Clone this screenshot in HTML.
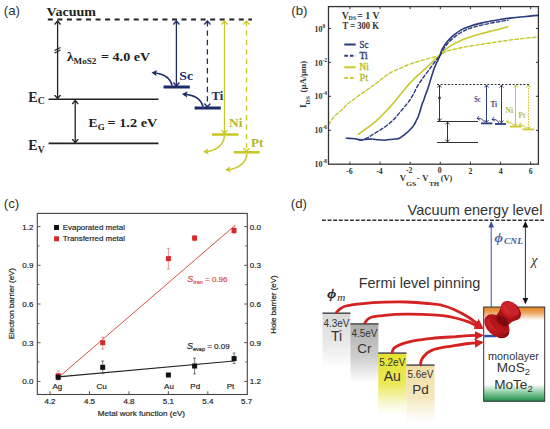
<!DOCTYPE html>
<html><head><meta charset="utf-8">
<style>
html,body{margin:0;padding:0;background:#fff;}
body{width:550px;height:429px;overflow:hidden;}
svg{display:block;}
.sans{font-family:"Liberation Sans",sans-serif;}
.serif{font-family:"Liberation Serif",serif;}
</style></head><body>
<svg width="550" height="429" viewBox="0 0 550 429">
<defs>
  <marker id="ahk" markerWidth="8" markerHeight="8" refX="4" refY="4" orient="auto-start-reverse" markerUnits="userSpaceOnUse">
    <path d="M0.5,1 L4,4 L0.5,7" fill="none" stroke="#222" stroke-width="1.3"/>
  </marker>
  <marker id="ahb" markerWidth="8" markerHeight="8" refX="4" refY="4" orient="auto-start-reverse" markerUnits="userSpaceOnUse">
    <path d="M0.5,1 L4,4 L0.5,7" fill="none" stroke="#1c2a66" stroke-width="1.3"/>
  </marker>
  <marker id="ahy" markerWidth="8" markerHeight="8" refX="4" refY="4" orient="auto-start-reverse" markerUnits="userSpaceOnUse">
    <path d="M0.5,1 L4,4 L0.5,7" fill="none" stroke="#c8c82c" stroke-width="1.3"/>
  </marker>
  <marker id="ahs" markerWidth="6" markerHeight="6" refX="3" refY="3" orient="auto-start-reverse" markerUnits="userSpaceOnUse">
    <path d="M0.5,1 L3,3 L0.5,5" fill="none" stroke="#333" stroke-width="0.9"/>
  </marker>
  <marker id="ahsb" markerWidth="6" markerHeight="6" refX="3" refY="3" orient="auto-start-reverse" markerUnits="userSpaceOnUse">
    <path d="M0.5,1 L3,3 L0.5,5" fill="none" stroke="#2a3a7c" stroke-width="0.9"/>
  </marker>
  <marker id="ahsy" markerWidth="6" markerHeight="6" refX="3" refY="3" orient="auto-start-reverse" markerUnits="userSpaceOnUse">
    <path d="M0.5,1 L3,3 L0.5,5" fill="none" stroke="#c8c82c" stroke-width="0.9"/>
  </marker>
  <linearGradient id="gTi" x1="0" y1="0" x2="0" y2="1"><stop offset="0" stop-color="#d8d8d8"/><stop offset="0.6" stop-color="#ebebeb"/><stop offset="1" stop-color="#ffffff"/></linearGradient>
  <linearGradient id="gCr" x1="0" y1="0" x2="0" y2="1"><stop offset="0" stop-color="#acacac"/><stop offset="0.55" stop-color="#cdcdcd"/><stop offset="1" stop-color="#ffffff"/></linearGradient>
  <linearGradient id="gAu" x1="0" y1="0" x2="0" y2="1"><stop offset="0" stop-color="#e4e22e"/><stop offset="0.5" stop-color="#ebe95a"/><stop offset="0.82" stop-color="#f8f8d6"/><stop offset="1" stop-color="#ffffff"/></linearGradient>
  <linearGradient id="gPd" x1="0" y1="0" x2="0" y2="1"><stop offset="0" stop-color="#f0dfa6"/><stop offset="0.55" stop-color="#f4e6bc"/><stop offset="0.85" stop-color="#fcf8ee"/><stop offset="1" stop-color="#ffffff"/></linearGradient>
  <linearGradient id="gBox" x1="0" y1="0" x2="0" y2="1">
    <stop offset="0" stop-color="#e5821f"/><stop offset="0.06" stop-color="#eda560"/><stop offset="0.14" stop-color="#ffffff"/>
    <stop offset="0.82" stop-color="#ffffff"/><stop offset="0.9" stop-color="#92d0a6"/><stop offset="1" stop-color="#1f8c48"/>
  </linearGradient>
  <radialGradient id="gPin" cx="0.4" cy="0.35" r="0.7"><stop offset="0" stop-color="#d42a2e"/><stop offset="0.6" stop-color="#b01218"/><stop offset="1" stop-color="#7a080e"/></radialGradient>
  <radialGradient id="gCap" cx="0.45" cy="0.35" r="0.7"><stop offset="0" stop-color="#dc3a3e"/><stop offset="0.6" stop-color="#c0161c"/><stop offset="1" stop-color="#860a10"/></radialGradient>
  <marker id="ahR" markerWidth="12" markerHeight="12" refX="6" refY="6" orient="auto" markerUnits="userSpaceOnUse">
    <path d="M0,1.5 L9,6 L0,10.5 Z" fill="#d42222"/>
  </marker>
  <marker id="ahbf" markerWidth="8" markerHeight="8" refX="3" refY="4" orient="auto" markerUnits="userSpaceOnUse">
    <path d="M0,0.8 L5.5,4 L0,7.2 L1.2,4 Z" fill="#1c2a66"/>
  </marker>
  <marker id="ahyf" markerWidth="8" markerHeight="8" refX="3" refY="4" orient="auto" markerUnits="userSpaceOnUse">
    <path d="M0,0.8 L5.5,4 L0,7.2 L1.2,4 Z" fill="#c8c82c"/>
  </marker>
</defs>

<!-- ================= PANEL (a) ================= -->
<g id="pa">
  <text x="3.8" y="14.9" class="sans" font-size="13.3" fill="#333">(a)</text>
  <text x="46.6" y="15.8" class="serif" font-weight="bold" font-size="13.5" fill="#222" textLength="49.4" lengthAdjust="spacingAndGlyphs">Vacuum</text>
  <line x1="47.8" y1="19.5" x2="252" y2="19.5" stroke="#222" stroke-width="1.8" stroke-dasharray="5 4.55"/>
  <!-- lambda arrow -->
  <line x1="57.6" y1="21" x2="57.6" y2="98.5" stroke="#222" stroke-width="1.3" marker-start="url(#ahk)" marker-end="url(#ahk)"/>
  <path d="M54.5,50.5 L60.5,47.5 M54.5,53 L60.5,50" stroke="#222" stroke-width="1.2" fill="none"/>
  <text x="66.9" y="60.5" class="serif" font-weight="bold" font-size="13.5" fill="#222">λ</text>
  <text x="73.6" y="63.6" class="serif" font-weight="bold" font-size="8.5" fill="#222" textLength="22.8" lengthAdjust="spacingAndGlyphs">MoS2</text>
  <text x="101" y="60.5" class="serif" font-weight="bold" font-size="13" fill="#222" textLength="49.2" lengthAdjust="spacingAndGlyphs">= 4.0 eV</text>
  <!-- Ec / Ev -->
  <line x1="48.6" y1="99.3" x2="158.5" y2="99.3" stroke="#222" stroke-width="1.6"/>
  <line x1="48.6" y1="143.4" x2="158.5" y2="143.4" stroke="#222" stroke-width="1.6"/>
  <text x="28.3" y="101.8" class="serif" font-weight="bold" font-size="14" fill="#222">E<tspan font-size="9.5" dy="2.5">C</tspan></text>
  <text x="28.3" y="150.3" class="serif" font-weight="bold" font-size="14" fill="#222">E<tspan font-size="9.5" dy="2.2">V</tspan></text>
  <line x1="75.2" y1="100.5" x2="75.2" y2="142.5" stroke="#222" stroke-width="1.3" marker-start="url(#ahk)" marker-end="url(#ahk)"/>
  <text x="88.4" y="127" class="serif" font-weight="bold" font-size="13.5" fill="#222">E</text>
  <text x="97.8" y="130.3" class="serif" font-weight="bold" font-size="9" fill="#222">G</text>
  <text x="107.5" y="127" class="serif" font-weight="bold" font-size="13.5" fill="#222" textLength="49.8" lengthAdjust="spacingAndGlyphs">= 1.2 eV</text>

  <!-- Sc -->
  <g stroke="#1c2a66" fill="none">
    <line x1="176.4" y1="21" x2="176.4" y2="86" stroke-width="1.3" marker-start="url(#ahb)" marker-end="url(#ahb)"/>
    <line x1="163.5" y1="87" x2="189.8" y2="87" stroke-width="3"/>
    <path d="M172,85.5 C170.5,78.5 164,74 154,72.8" stroke-width="1.6" marker-end="url(#ahbf)"/>
    <line x1="207.4" y1="21" x2="207.4" y2="107" stroke-width="1.3" stroke-dasharray="5.4 4" marker-start="url(#ahb)" marker-end="url(#ahb)"/>
    <line x1="194.6" y1="108" x2="220.8" y2="108" stroke-width="3"/>
    <path d="M203,106.5 C201,99.5 194,95 184.5,94.3" stroke-width="1.6" marker-end="url(#ahbf)"/>
  </g>
  <text x="179.3" y="79.8" class="serif" font-weight="bold" font-size="13" fill="#1c2a66" textLength="13.7" lengthAdjust="spacingAndGlyphs">Sc</text>
  <text x="211.5" y="99.6" class="serif" font-weight="bold" font-size="13.5" fill="#1c2a66" textLength="11.8" lengthAdjust="spacingAndGlyphs">Ti</text>
  <g stroke="#c8c82c" fill="none">
    <line x1="224.5" y1="21" x2="224.5" y2="133.5" stroke-width="1.3" marker-start="url(#ahy)" marker-end="url(#ahy)"/>
    <line x1="212" y1="134.5" x2="238.5" y2="134.5" stroke-width="2.6"/>
    <path d="M224.4,136 C224,145 216,150.5 205.5,151.8" stroke-width="1.6" marker-end="url(#ahyf)"/>
    <line x1="246.5" y1="21" x2="246.5" y2="151.5" stroke-width="1.3" stroke-dasharray="5.4 4" marker-start="url(#ahy)" marker-end="url(#ahy)"/>
    <line x1="233.7" y1="152.3" x2="259.6" y2="152.3" stroke-width="2.6"/>
    <path d="M246.8,154 C246.5,163 238,168.5 227.5,169.8" stroke-width="1.6" marker-end="url(#ahyf)"/>
  </g>
  <text x="229" y="127.3" class="serif" font-weight="bold" font-size="12.5" fill="#b2b62a" textLength="13.4" lengthAdjust="spacingAndGlyphs">Ni</text>
  <text x="251" y="147.3" class="serif" font-weight="bold" font-size="12.5" fill="#b2b62a" textLength="12.3" lengthAdjust="spacingAndGlyphs">Pt</text>
</g>


<!-- ================= PANEL (b) ================= -->
<g id="pb">
  <text x="291.3" y="15" class="sans" font-size="13.3" fill="#333">(b)</text>
  <!-- curves -->
  <g fill="none" stroke-linejoin="round" stroke-linecap="round">
    <path stroke="#c8c82c" stroke-width="1.4" stroke-dasharray="3.5 2.2" d="M328.5,124.4 C329.5,123.1 332.4,118.6 334.5,116.3 C336.6,114.0 338.8,112.6 341.0,110.6 C343.2,108.5 345.4,105.9 347.6,104.0 C349.8,102.1 351.9,100.8 354.1,99.2 C356.3,97.6 358.2,96.1 360.6,94.3 C363.1,92.5 366.1,90.4 368.8,88.5 C371.5,86.6 374.2,84.8 376.9,82.8 C379.6,80.8 382.4,78.2 385.1,76.3 C387.8,74.4 390.8,72.6 393.3,71.3 C395.8,70.0 397.6,69.3 400.0,68.3 C402.4,67.2 405.5,65.9 407.8,65.0 C410.1,64.1 411.9,63.5 414.0,62.8 C416.1,62.1 418.4,61.4 420.6,60.8 C422.8,60.1 424.9,59.5 427.0,58.9 C429.1,58.3 431.3,57.8 433.5,57.2 C435.7,56.6 438.1,56.0 440.0,55.2 C441.9,54.4 443.3,53.0 445.0,52.2 C446.7,51.4 447.5,50.9 450.0,50.2 C452.5,49.5 456.7,48.7 460.0,48.0 C463.3,47.3 466.7,46.6 470.0,46.0 C473.3,45.4 476.7,45.0 480.0,44.5 C483.3,44.0 486.7,43.5 490.0,43.0 C493.3,42.5 496.7,42.0 500.0,41.5 C503.3,41.0 506.7,40.5 510.0,40.0 C513.3,39.5 516.7,39.2 520.0,38.8 C523.3,38.4 527.0,38.1 530.0,37.8 C533.0,37.5 536.7,37.1 538.0,37.0"/>
    <path stroke="#c8c82c" stroke-width="1.6" d="M358.4,134.4 C359.5,133.6 362.7,131.2 365.0,129.5 C367.3,127.8 369.9,126.1 372.1,124.3 C374.4,122.5 376.5,120.7 378.5,118.8 C380.5,116.9 382.5,114.9 384.3,113.0 C386.1,111.1 387.9,109.4 389.5,107.6 C391.1,105.8 392.5,104.1 394.1,102.2 C395.7,100.3 397.4,98.2 399.0,96.2 C400.6,94.2 402.3,92.2 403.9,90.2 C405.5,88.2 407.2,86.2 408.8,84.4 C410.4,82.6 411.9,81.0 413.7,79.2 C415.5,77.5 417.5,75.7 419.5,73.9 C421.5,72.1 424.0,70.0 425.9,68.2 C427.8,66.4 429.4,64.8 431.0,63.2 C432.6,61.6 434.2,59.9 435.7,58.6 C437.2,57.3 438.8,56.6 440.0,55.5 C441.2,54.4 442.0,53.0 443.0,52.0 C444.0,51.0 444.8,50.2 446.0,49.2 C447.2,48.2 448.5,47.2 450.0,46.2 C451.5,45.2 453.3,44.3 455.0,43.4 C456.7,42.5 458.3,41.8 460.0,41.0 C461.7,40.2 463.3,39.5 465.0,38.8 C466.7,38.1 467.5,37.8 470.0,37.0 C472.5,36.2 476.7,34.9 480.0,34.0 C483.3,33.1 486.7,32.2 490.0,31.4 C493.3,30.5 497.0,29.7 500.0,28.9 C503.0,28.1 506.7,27.1 508.0,26.8"/>
    <path stroke="#2a3a7c" stroke-width="1.4" stroke-dasharray="3.5 2.2" d="M359.7,140.4 C360.9,140.0 364.6,139.0 366.7,138.1 C368.8,137.2 370.1,136.2 372.0,135.0 C373.9,133.8 376.3,132.3 378.3,131.1 C380.3,129.8 382.1,128.8 384.0,127.5 C385.9,126.2 388.0,124.7 390.0,123.0 C392.0,121.3 393.9,119.3 395.8,117.2 C397.8,115.1 399.8,112.5 401.7,110.2 C403.6,107.9 406.0,105.1 407.5,103.2 C409.0,101.3 409.5,100.5 410.5,99.0 C411.5,97.5 412.2,96.5 413.3,94.5 C414.4,92.5 415.6,89.5 416.8,87.3 C418.0,85.1 419.2,83.4 420.5,81.5 C421.8,79.6 423.2,77.6 424.5,75.8 C425.8,74.0 427.2,72.2 428.5,70.5 C429.8,68.8 430.9,67.2 432.2,65.5 C433.4,63.8 434.7,62.2 436.0,60.5 C437.3,58.8 439.0,57.0 440.0,55.5 C441.0,54.0 441.0,53.2 442.0,51.5 C443.0,49.8 444.7,47.2 446.0,45.5 C447.3,43.8 448.5,42.5 450.0,41.0 C451.5,39.5 453.3,37.9 455.0,36.6 C456.7,35.3 458.3,34.0 460.0,33.0 C461.7,31.9 463.3,31.1 465.0,30.3 C466.7,29.5 467.5,29.1 470.0,28.3 C472.5,27.5 476.7,26.3 480.0,25.5 C483.3,24.7 486.7,24.0 490.0,23.3 C493.3,22.6 497.0,22.0 500.0,21.5 C503.0,21.0 506.7,20.5 508.0,20.3"/>
    <path stroke="#2a3a7c" stroke-width="1.6" d="M346.4,138.2 C347.0,138.2 348.6,138.3 350.0,138.4 C351.4,138.5 353.6,138.5 355.0,138.7 C356.4,138.9 357.3,139.3 358.5,139.5 C359.7,139.7 360.6,139.9 362.0,139.9 C363.4,139.9 365.2,139.5 367.0,139.3 C368.8,139.2 370.7,138.9 372.5,139.0 C374.3,139.1 376.1,139.6 378.0,139.8 C379.9,140.0 382.1,140.2 384.1,140.2 C386.1,140.1 388.1,139.7 390.0,139.5 C391.9,139.3 394.1,139.2 395.8,139.0 C397.5,138.8 398.6,138.7 400.0,138.0 C401.4,137.3 402.8,135.9 404.0,135.0 C405.2,134.1 406.0,133.4 407.0,132.6 C408.0,131.8 408.9,130.9 409.8,130.0 C410.7,129.1 411.7,128.0 412.5,127.0 C413.3,126.0 413.8,125.4 414.5,124.2 C415.2,123.0 415.9,121.2 416.5,120.0 C417.1,118.8 417.4,118.7 418.0,117.2 C418.6,115.8 419.4,113.3 420.0,111.3 C420.6,109.3 421.2,106.9 421.8,105.0 C422.4,103.1 423.1,101.9 423.8,100.0 C424.5,98.1 425.2,95.6 426.0,93.5 C426.8,91.4 427.6,89.5 428.3,87.3 C429.0,85.1 429.7,82.6 430.3,80.5 C430.9,78.4 431.6,76.4 432.2,74.5 C432.8,72.6 433.4,70.7 434.0,69.0 C434.6,67.3 435.4,65.6 436.0,64.2 C436.6,62.8 437.1,62.0 437.8,60.5 C438.5,59.0 439.3,57.3 440.0,55.5 C440.7,53.7 441.0,51.5 442.0,49.5 C443.0,47.5 444.7,45.0 446.0,43.2 C447.3,41.4 448.5,40.1 450.0,38.6 C451.5,37.1 453.3,35.5 455.0,34.2 C456.7,32.9 458.3,31.6 460.0,30.6 C461.7,29.6 463.3,28.8 465.0,28.1 C466.7,27.4 467.5,27.0 470.0,26.2 C472.5,25.4 476.7,24.2 480.0,23.4 C483.3,22.6 486.7,21.9 490.0,21.3 C493.3,20.7 496.7,20.0 500.0,19.5 C503.3,19.0 506.7,18.5 510.0,18.1 C513.3,17.7 516.7,17.3 520.0,17.0 C523.3,16.7 527.0,16.4 530.0,16.1 C533.0,15.8 536.8,15.5 538.2,15.4"/>
  </g>
  <!-- axes box -->
  <rect x="328.5" y="6.6" width="209.9" height="157.6" fill="none" stroke="#333" stroke-width="1.3"/>
  <g stroke="#333" stroke-width="1">
    <!-- x ticks bottom/top -->
    <path d="M349.9,164.2v-2.5M380.1,164.2v-2.5M410.2,164.2v-2.5M440.3,164.2v-2.5M470.4,164.2v-2.5M500.5,164.2v-2.5M530.7,164.2v-2.5
             M349.9,6.6v2.5M380.1,6.6v2.5M410.2,6.6v2.5M440.3,6.6v2.5M470.4,6.6v2.5M500.5,6.6v2.5M530.7,6.6v2.5
             M328.5,28.4h2.5M328.5,62.4h2.5M328.5,96.3h2.5M328.5,130.3h2.5
             M538.4,28.4h-2.5M538.4,62.4h-2.5M538.4,96.3h-2.5M538.4,130.3h-2.5"/>
  </g>
  <!-- tick labels -->
  <g class="serif" font-weight="bold" font-size="7.8" fill="#333" text-anchor="middle">
    <text x="349.3" y="173.8">-6</text>
    <text x="379.4" y="173.8">-4</text>
    <text x="409.2" y="173.4">-2</text>
    <text x="439.8" y="173.4">0</text>
    <text x="470.4" y="173.8">2</text>
    <text x="500.8" y="173.8">4</text>
    <text x="530.8" y="173.8">6</text>
  </g>
  <g class="serif" font-weight="bold" font-size="8" fill="#333">
    <text x="314.5" y="31.5">10<tspan font-size="5.5" dy="-4">0</tspan></text>
    <text x="314.5" y="65.5">10<tspan font-size="5.5" dy="-4">-2</tspan></text>
    <text x="314.5" y="99.4">10<tspan font-size="5.5" dy="-4">-4</tspan></text>
    <text x="314.5" y="133.4">10<tspan font-size="5.5" dy="-4">-6</tspan></text>
    <text x="314.5" y="167.3">10<tspan font-size="5.5" dy="-4">-8</tspan></text>
  </g>
  <!-- axis labels -->
  <g class="serif" font-weight="bold" fill="#333">
    <text x="399.8" y="180.8" font-size="8.6">V</text>
    <text x="405.9" y="185.6" font-size="6.2" textLength="10.4" lengthAdjust="spacingAndGlyphs">GS</text>
    <text x="416.8" y="180.8" font-size="8.6">-</text>
    <text x="422.2" y="180.8" font-size="8.6">V</text>
    <text x="429.3" y="185.6" font-size="6.2" textLength="9.9" lengthAdjust="spacingAndGlyphs">TH</text>
    <text x="440.8" y="181.3" font-size="8.8" textLength="11.5" lengthAdjust="spacingAndGlyphs">(V)</text>
  </g>
  <g transform="translate(306.4,108) rotate(-90)" class="serif" font-weight="bold" fill="#333">
    <text x="0" y="0" font-size="9">I</text>
    <text x="3.3" y="3.3" font-size="6.2" textLength="8.7" lengthAdjust="spacingAndGlyphs">DS</text>
    <text x="15.6" y="-0.5" font-size="9" textLength="31.6" lengthAdjust="spacingAndGlyphs">(μA/μm)</text>
  </g>
  <!-- VDS text -->
  <text x="341.8" y="18.9" class="serif" font-weight="bold" font-size="9.8" fill="#333">V</text>
  <text x="348.6" y="20.2" class="serif" font-weight="bold" font-size="6" fill="#333">DS</text>
  <text x="357.3" y="18.9" class="serif" font-weight="bold" font-size="9.8" fill="#333" textLength="22.3" lengthAdjust="spacingAndGlyphs">= 1 V</text>
  <text x="342.5" y="28.9" class="serif" font-weight="bold" font-size="9.8" fill="#333" textLength="36.5" lengthAdjust="spacingAndGlyphs">T = 300 K</text>
  <!-- legend -->
  <g fill="none">
    <line x1="344.3" y1="44.5" x2="355.7" y2="44.5" stroke="#2a3a7c" stroke-width="2"/>
    <line x1="344.3" y1="55.8" x2="355.7" y2="55.8" stroke="#2a3a7c" stroke-width="2" stroke-dasharray="3.6 2"/>
    <line x1="344.3" y1="67.3" x2="355.7" y2="67.3" stroke="#c8c82c" stroke-width="2"/>
    <line x1="344.3" y1="77.9" x2="355.7" y2="77.9" stroke="#c8c82c" stroke-width="2" stroke-dasharray="3.6 2"/>
  </g>
  <g class="serif" font-size="9.3" stroke-width="0.35">
    <text x="359.5" y="48.3" fill="#2a3a7c" stroke="#2a3a7c" textLength="8.8" lengthAdjust="spacingAndGlyphs">Sc</text>
    <text x="359.5" y="58.9" fill="#2a3a7c" stroke="#2a3a7c" textLength="8.2" lengthAdjust="spacingAndGlyphs">Ti</text>
    <text x="359.5" y="70" fill="#b8bc30" stroke="#b8bc30" textLength="9.2" lengthAdjust="spacingAndGlyphs">Ni</text>
    <text x="359.5" y="80.5" fill="#b8bc30" stroke="#b8bc30" textLength="8.6" lengthAdjust="spacingAndGlyphs">Pt</text>
  </g>
  <!-- inset -->
  <g fill="none" stroke-width="1">
    <line x1="437" y1="84.5" x2="529" y2="84.5" stroke="#333" stroke-dasharray="2 1.6"/>
    <line x1="439.5" y1="85" x2="439.5" y2="121" stroke="#333" marker-start="url(#ahs)" marker-end="url(#ahs)"/>
    <circle cx="439.5" cy="98" r="1.4" fill="#333" stroke="none"/>
    <line x1="437" y1="121.5" x2="478" y2="121.5" stroke="#333"/>
    <line x1="437" y1="142.5" x2="478" y2="142.5" stroke="#333"/>
    <line x1="447.5" y1="122" x2="447.5" y2="142" stroke="#333" marker-start="url(#ahs)" marker-end="url(#ahs)"/>
    <line x1="486.5" y1="85" x2="486.5" y2="122.5" stroke="#2a3a7c" marker-start="url(#ahsb)" marker-end="url(#ahsb)"/>
    <line x1="481" y1="123.4" x2="492.4" y2="123.4" stroke="#2a3a7c" stroke-width="1.8"/>
    <path d="M484.5,122.5 C483,119 480,118 477,118.5" stroke="#2a3a7c" marker-end="url(#ahsb)"/>
    <line x1="501.5" y1="85" x2="501.5" y2="123" stroke="#2a3a7c" marker-start="url(#ahsb)" marker-end="url(#ahsb)"/>
    <line x1="495" y1="124" x2="506" y2="124" stroke="#2a3a7c" stroke-width="1.8"/>
    <path d="M499,123 C497.5,120 495,119 492,119.5" stroke="#2a3a7c" marker-end="url(#ahsb)"/>
    <line x1="515.5" y1="85" x2="515.5" y2="126" stroke="#c8c82c" marker-start="url(#ahsy)" marker-end="url(#ahsy)"/>
    <line x1="510" y1="126.6" x2="521" y2="126.6" stroke="#c8c82c" stroke-width="1.8"/>
    <path d="M513.5,125.5 C512,122.5 509.5,121.5 506.5,122" stroke="#c8c82c" marker-end="url(#ahsy)"/>
    <line x1="528.5" y1="85" x2="528.5" y2="128.8" stroke="#c8c82c" stroke-dasharray="1.6 1.2" marker-start="url(#ahsy)" marker-end="url(#ahsy)"/>
    <line x1="522.4" y1="129.4" x2="534" y2="129.4" stroke="#c8c82c" stroke-width="1.8"/>
    <path d="M526,128.5 C524.5,125.5 522,124.5 519,125" stroke="#c8c82c" marker-end="url(#ahsy)"/>
  </g>
  <g class="serif" font-weight="bold" font-size="8">
    <text x="474.2" y="101.8" fill="#34447e" textLength="6.4" lengthAdjust="spacingAndGlyphs">Sc</text>
    <text x="490.4" y="107.3" fill="#34447e" textLength="6.6" lengthAdjust="spacingAndGlyphs">Ti</text>
    <text x="505.2" y="112.6" fill="#c0c232" textLength="8" lengthAdjust="spacingAndGlyphs">Ni</text>
    <text x="518.6" y="118" fill="#c0c232" textLength="6.8" lengthAdjust="spacingAndGlyphs">Pt</text>
  </g>
</g>


<!-- ================= PANEL (c) ================= -->
<g id="pc">
  <text x="3.8" y="208" class="sans" font-size="13.3" fill="#333">(c)</text>
  <rect x="37.3" y="213.4" width="210" height="181.1" fill="none" stroke="#444" stroke-width="1.1"/>
  <path d="M37.3,226.6h3.2M247.3,226.6h-3.2M37.3,265.3h3.2M247.3,265.3h-3.2M37.3,304h3.2M247.3,304h-3.2M37.3,342.7h3.2M247.3,342.7h-3.2M37.3,381.4h3.2M247.3,381.4h-3.2M37.3,245.9h2M247.3,245.9h-2M37.3,284.6h2M247.3,284.6h-2M37.3,323.4h2M247.3,323.4h-2M37.3,362.0h2M247.3,362.0h-2M50,394.5v-3.2M89.5,394.5v-3.2M129,394.5v-3.2M168.4,394.5v-3.2M207.8,394.5v-3.2" stroke="#444" stroke-width="0.9" fill="none"/>
  <line x1="59" y1="377" x2="235.5" y2="225" stroke="#d65048" stroke-width="1"/>
  <line x1="61" y1="376.6" x2="234" y2="361" stroke="#222" stroke-width="1.1"/>
  <path d="M58.2,371V380M56.7,371h3M56.7,380h3" stroke="#e08080" stroke-width="0.8" fill="none"/><path d="M102.7,337.3V349M101.2,337.3h3M101.2,349h3" stroke="#e08080" stroke-width="0.8" fill="none"/><path d="M168.4,248.3V269M166.9,248.3h3M166.9,269h3" stroke="#e08080" stroke-width="0.8" fill="none"/><path d="M194.6,235.5V240.7M193.1,235.5h3M193.1,240.7h3" stroke="#e08080" stroke-width="0.8" fill="none"/><path d="M234,227.3V233.7M232.5,227.3h3M232.5,233.7h3" stroke="#e08080" stroke-width="0.8" fill="none"/><path d="M102.7,361V373.6M101.2,361h3M101.2,373.6h3" stroke="#555" stroke-width="0.8" fill="none"/><path d="M194.6,358.2V373.9M193.1,358.2h3M193.1,373.9h3" stroke="#555" stroke-width="0.8" fill="none"/><path d="M234.1,353V363.5M232.6,353h3M232.6,363.5h3" stroke="#555" stroke-width="0.8" fill="none"/><rect x="55.7" y="373.2" width="5" height="5" fill="#d42a2a"/><rect x="100.2" y="340.2" width="5" height="5" fill="#d42a2a"/><rect x="165.9" y="256.1" width="5" height="5" fill="#d42a2a"/><rect x="192.1" y="235.6" width="5" height="5" fill="#d42a2a"/><rect x="231.5" y="228.0" width="5" height="5" fill="#d42a2a"/><rect x="55.7" y="374.8" width="5" height="5" fill="#111"/><rect x="100.2" y="364.8" width="5" height="5" fill="#111"/><rect x="165.9" y="372.5" width="5" height="5" fill="#111"/><rect x="192.1" y="363.5" width="5" height="5" fill="#111"/><rect x="231.6" y="356.1" width="5" height="5" fill="#111"/>
  <g class="sans" font-size="8" fill="#222" stroke="#222" stroke-width="0.18">
    <g text-anchor="end">
      <text x="33.4" y="229.5">1.2</text>
      <text x="33.4" y="268.2">0.9</text>
      <text x="33.4" y="306.9">0.6</text>
      <text x="33.4" y="345.6">0.3</text>
      <text x="33.4" y="384.3">0.0</text>
    </g>
    <text x="249.8" y="229.9">0.0</text>
    <text x="249.8" y="268.2">0.3</text>
    <text x="249.8" y="306.9">0.6</text>
    <text x="249.8" y="345.6">0.9</text>
    <text x="249.8" y="384.3">1.2</text>
    <g text-anchor="middle">
      <text x="50" y="404.2">4.2</text>
      <text x="89.5" y="404.2">4.5</text>
      <text x="129" y="404.2">4.8</text>
      <text x="168.4" y="404.2">5.1</text>
      <text x="207.8" y="404.2">5.4</text>
      <text x="246.6" y="404.2">5.7</text>
      <text x="57.3" y="389.2">Ag</text>
      <text x="101.5" y="389.2">Cu</text>
      <text x="169" y="389.2">Au</text>
      <text x="195.2" y="389.2">Pd</text>
      <text x="230.5" y="389.2">Pt</text>
    </g>
    <text x="97.7" y="415.5" textLength="87.3" lengthAdjust="spacingAndGlyphs">Metal work function (eV)</text>
    <text x="62.7" y="230" textLength="62.3" lengthAdjust="spacingAndGlyphs">Evaporated metal</text>
    <text x="62.7" y="241.4" textLength="62.3" lengthAdjust="spacingAndGlyphs">Transferred metal</text>
    <text transform="translate(14,339.3) rotate(-90)" x="0" y="0" textLength="71.3" lengthAdjust="spacingAndGlyphs">Electron barrier (eV)</text>
    <text transform="translate(276.2,333.8) rotate(-90)" x="0" y="0" textLength="58.5" lengthAdjust="spacingAndGlyphs">Hole barrier (eV)</text>
    <text x="187.3" y="281.6" fill="#d44a44" stroke="#d44a44"><tspan font-style="italic" font-size="9">S</tspan><tspan font-size="5.5" dy="2">tran</tspan><tspan dy="-2"> = 0.96</tspan></text>
    <text x="187" y="348.5" fill="#222"><tspan font-style="italic" font-size="9">S</tspan><tspan font-size="5.5" dy="2">evap</tspan><tspan dy="-2"> = 0.09</tspan></text>
  </g>
  <rect x="54" y="225" width="5" height="5" fill="#111"/>
  <rect x="54" y="236.3" width="5" height="5" fill="#d42a2a"/>
</g>


<!-- ================= PANEL (d) ================= -->
<g id="pd">
  <text x="290.8" y="208.2" class="sans" font-size="13.3" fill="#333">(d)</text>
  <text x="407.6" y="214.6" class="sans" font-size="14.5" fill="#333" textLength="134.8" lengthAdjust="spacingAndGlyphs">Vacuum energy level</text>
  <line x1="322" y1="220.2" x2="544" y2="220.2" stroke="#333" stroke-width="1.4" stroke-dasharray="3.9 1.7"/>
  <!-- blocks -->
  <rect x="322.5" y="313" width="27.9" height="55" fill="url(#gTi)"/>
  <rect x="350.4" y="323.8" width="28" height="59" fill="url(#gCr)"/>
  <rect x="378.2" y="353" width="28.2" height="62" fill="url(#gAu)"/>
  <rect x="406.4" y="365" width="28.2" height="58" fill="url(#gPd)"/>
  <g stroke="#555" stroke-width="1.6">
    <line x1="322.5" y1="313.2" x2="350.4" y2="313.2"/>
    <line x1="350.4" y1="323.9" x2="378.4" y2="323.9"/>
    <line x1="378.2" y1="353.1" x2="406.4" y2="353.1"/>
    <line x1="406.4" y1="365.1" x2="434.6" y2="365.1"/>
  </g>
  <g class="sans" fill="#333" text-anchor="middle">
    <text x="336.4" y="326.6" font-size="10" textLength="26" lengthAdjust="spacingAndGlyphs">4.3eV</text>
    <text x="336.5" y="341" font-size="14">Ti</text>
    <text x="364.4" y="337" font-size="10" textLength="26" lengthAdjust="spacingAndGlyphs">4.5eV</text>
    <text x="364.4" y="353" font-size="13.5">Cr</text>
    <text x="392.3" y="365.9" font-size="10" textLength="26" lengthAdjust="spacingAndGlyphs">5.2eV</text>
    <text x="392.3" y="381" font-size="14">Au</text>
    <text x="420.5" y="378.1" font-size="10" textLength="26" lengthAdjust="spacingAndGlyphs">5.6eV</text>
    <text x="420.5" y="394.3" font-size="13.5">Pd</text>
  </g>
  <!-- semiconductor box -->
  <rect x="483.7" y="307" width="61" height="94.3" fill="url(#gBox)" stroke="#333" stroke-width="1"/>
  <g class="sans" fill="#333" text-anchor="middle">
    <text x="513.4" y="360" font-size="10.9">monolayer</text>
    <text x="513.4" y="372.3" font-size="13.6">MoS<tspan font-size="9.5" dy="3">2</tspan></text>
    <text x="513.4" y="389.2" font-size="13.6">MoTe<tspan font-size="9.5" dy="3">2</tspan></text>
  </g>
  <!-- arrows -->
  <line x1="491.2" y1="307" x2="491.2" y2="226" stroke="#3a4fa0" stroke-width="1"/>
  <path d="M491.2,221 L494,227.5 L488.4,227.5 Z" fill="#3a4fa0"/>
  <line x1="525.4" y1="226" x2="525.4" y2="299" stroke="#333" stroke-width="1"/>
  <path d="M525.4,221 L528.3,227.5 L522.5,227.5 Z" fill="#111"/>
  <path d="M525.4,304.3 L528.3,298 L522.5,298 Z" fill="#111"/>
  <text transform="translate(494.6,242.2) scale(1.22,1)" x="0" y="0" font-family="Liberation Serif, serif" font-style="italic" font-size="13" fill="#3a4fa0" stroke="#3a4fa0" stroke-width="0.2">ϕ</text>
  <text x="504" y="244.4" font-family="Liberation Serif, serif" font-style="italic" font-weight="bold" font-size="8.6" fill="#4a5a9c" textLength="19" lengthAdjust="spacingAndGlyphs">CNL</text>
  <text x="531.3" y="265" font-family="Liberation Serif, serif" font-style="italic" font-size="14" fill="#333">χ</text>
  <text x="358.7" y="287.8" class="sans" font-size="14.5" fill="#333" textLength="121.6" lengthAdjust="spacingAndGlyphs">Fermi level pinning</text>
  <text transform="translate(327.3,297.8) scale(1.25,1)" x="0" y="0" font-family="Liberation Serif, serif" font-style="italic" font-size="13.5" fill="#222" stroke="#222" stroke-width="0.35">ϕ</text>
  <text x="337.2" y="300.8" font-family="Liberation Serif, serif" font-style="italic" font-size="10.5" fill="#333" textLength="8" lengthAdjust="spacingAndGlyphs">m</text>
  <!-- red arrows -->
  <g fill="none" stroke="#d42222" stroke-width="2.8" stroke-linecap="round">
    <path d="M336.4,312.5 C337.0,311.9 338.4,310.1 340.0,309.0 C341.6,307.9 342.2,306.9 346.0,306.0 C349.8,305.1 356.3,304.2 362.7,303.6 C369.1,303.0 377.2,302.5 384.5,302.2 C391.8,301.9 399.1,301.8 406.4,302.0 C413.7,302.2 422.1,302.9 428.2,303.5 C434.3,304.1 438.2,304.4 442.8,305.5 C447.4,306.6 451.3,308.2 455.6,310.2 C459.9,312.1 465.1,315.1 468.5,317.2 C471.9,319.3 473.9,321.1 476.0,322.6 C478.1,324.1 480.0,325.6 480.8,326.2" marker-end="url(#ahR)"/>
    <path d="M364.9,322.9 C365.3,322.3 366.3,320.5 367.5,319.5 C368.7,318.5 369.2,317.7 372.0,317.0 C374.8,316.3 378.8,315.8 384.5,315.3 C390.2,314.8 399.1,314.3 406.4,314.2 C413.7,314.1 422.1,314.4 428.2,314.6 C434.3,314.8 438.2,315.0 442.8,315.6 C447.4,316.2 451.3,316.9 455.6,318.0 C459.9,319.1 465.1,320.7 468.5,321.9 C471.9,323.1 473.9,324.4 476.0,325.3 C478.1,326.2 480.0,327.2 480.8,327.6" marker-end="url(#ahR)"/>
    <path d="M392.0,352.5 C392.4,351.7 392.7,349.2 394.5,347.7 C396.3,346.2 399.3,344.8 402.7,343.6 C406.1,342.4 409.7,341.5 414.6,340.6 C419.5,339.7 426.4,338.9 432.3,338.3 C438.2,337.7 444.0,337.4 450.0,337.0 C456.0,336.6 463.4,335.9 468.5,335.6 C473.6,335.3 478.8,335.4 480.8,335.3" marker-end="url(#ahR)"/>
    <path d="M420.5,365.0 C420.7,364.1 420.6,361.5 421.6,359.6 C422.6,357.7 424.6,355.2 426.4,353.6 C428.2,352.0 429.8,351.1 432.3,350.1 C434.9,349.1 438.8,348.3 441.7,347.7 C444.6,347.1 445.5,347.0 450.0,346.3 C454.5,345.6 463.4,344.1 468.5,343.5 C473.6,342.9 478.8,342.8 480.8,342.6" marker-end="url(#ahR)"/>
  </g>
  <!-- blue patch -->
  <path d="M484.2,334.8 L496,334.8 L496,337.3 L484.2,337.3 Z" fill="#3050b0"/>
  <!-- pushpin -->
  <g transform="translate(496.8,326.3) rotate(-48)">
    <ellipse cx="0" cy="0" rx="9.5" ry="14.5" fill="url(#gPin)"/>
    <ellipse cx="3.5" cy="0.5" rx="6.5" ry="12" fill="#b5161b"/>
    <path d="M3,-8.5 C8,-7.5 12,-7.5 17,-10 L17,10 C12,7.5 8,7.5 3,8.5 Z" fill="#a81217"/>
    <ellipse cx="7.5" cy="0.5" rx="4" ry="7" fill="#7e0a0e"/>
    <ellipse cx="21" cy="0" rx="8" ry="11.5" fill="url(#gCap)"/>
    <ellipse cx="23.5" cy="-1" rx="4.5" ry="9" fill="#c8222a"/>
  </g>
</g>

</svg>
</body></html>
